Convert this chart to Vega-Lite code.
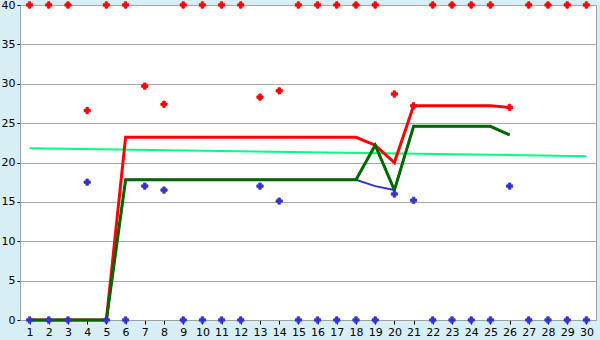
{
  "$schema": "https://vega.github.io/schema/vega-lite/v6.json",
  "width": 576,
  "height": 315,
  "autosize": {"type": "none"},
  "padding": {"left": 20, "top": 5, "right": 4, "bottom": 20},
  "background": "#d8eef5",
  "config": {
    "view": {"fill": "white", "stroke": "#a0a0a0", "strokeWidth": 1},
    "axis": {"labelFont": "DejaVu Sans", "labelFontSize": 11, "labelColor": "black", "domainColor": "#a0a0a0", "tickColor": "black", "title": null}
  },
  "datasets": {
    "pts": [
      {"x":1,"s":"r","v":40},{"x":2,"s":"r","v":40},{"x":3,"s":"r","v":40},{"x":4,"s":"r","v":26.6},{"x":5,"s":"r","v":40},{"x":6,"s":"r","v":40},{"x":7,"s":"r","v":29.7},{"x":8,"s":"r","v":27.4},{"x":9,"s":"r","v":40},{"x":10,"s":"r","v":40},{"x":11,"s":"r","v":40},{"x":12,"s":"r","v":40},{"x":13,"s":"r","v":28.3},{"x":14,"s":"r","v":29.1},{"x":15,"s":"r","v":40},{"x":16,"s":"r","v":40},{"x":17,"s":"r","v":40},{"x":18,"s":"r","v":40},{"x":19,"s":"r","v":40},{"x":20,"s":"r","v":28.7},{"x":21,"s":"r","v":27.2},{"x":22,"s":"r","v":40},{"x":23,"s":"r","v":40},{"x":24,"s":"r","v":40},{"x":25,"s":"r","v":40},{"x":26,"s":"r","v":27.0},{"x":27,"s":"r","v":40},{"x":28,"s":"r","v":40},{"x":29,"s":"r","v":40},{"x":30,"s":"r","v":40},
      {"x":1,"s":"b","v":0},{"x":2,"s":"b","v":0},{"x":3,"s":"b","v":0},{"x":4,"s":"b","v":17.5},{"x":5,"s":"b","v":0},{"x":6,"s":"b","v":0},{"x":7,"s":"b","v":17.0},{"x":8,"s":"b","v":16.5},{"x":9,"s":"b","v":0},{"x":10,"s":"b","v":0},{"x":11,"s":"b","v":0},{"x":12,"s":"b","v":0},{"x":13,"s":"b","v":17.0},{"x":14,"s":"b","v":15.1},{"x":15,"s":"b","v":0},{"x":16,"s":"b","v":0},{"x":17,"s":"b","v":0},{"x":18,"s":"b","v":0},{"x":19,"s":"b","v":0},{"x":20,"s":"b","v":16.0},{"x":21,"s":"b","v":15.2},{"x":22,"s":"b","v":0},{"x":23,"s":"b","v":0},{"x":24,"s":"b","v":0},{"x":25,"s":"b","v":0},{"x":26,"s":"b","v":17.0},{"x":27,"s":"b","v":0},{"x":28,"s":"b","v":0},{"x":29,"s":"b","v":0},{"x":30,"s":"b","v":0}
    ],
    "lines": [
      {"x":1,"s":"trend","v":21.8},{"x":30,"s":"trend","v":20.8},
      {"x":1,"s":"red","v":0},{"x":2,"s":"red","v":0},{"x":3,"s":"red","v":0},{"x":4,"s":"red","v":0},{"x":5,"s":"red","v":0},{"x":6,"s":"red","v":23.2},{"x":7,"s":"red","v":23.2},{"x":8,"s":"red","v":23.2},{"x":9,"s":"red","v":23.2},{"x":10,"s":"red","v":23.2},{"x":11,"s":"red","v":23.2},{"x":12,"s":"red","v":23.2},{"x":13,"s":"red","v":23.2},{"x":14,"s":"red","v":23.2},{"x":15,"s":"red","v":23.2},{"x":16,"s":"red","v":23.2},{"x":17,"s":"red","v":23.2},{"x":18,"s":"red","v":23.2},{"x":19,"s":"red","v":22.2},{"x":20,"s":"red","v":20.0},{"x":21,"s":"red","v":27.2},{"x":22,"s":"red","v":27.2},{"x":23,"s":"red","v":27.2},{"x":24,"s":"red","v":27.2},{"x":25,"s":"red","v":27.2},{"x":26,"s":"red","v":27.0},
      {"x":1,"s":"blue","v":0},{"x":2,"s":"blue","v":0},{"x":3,"s":"blue","v":0},{"x":4,"s":"blue","v":0},{"x":5,"s":"blue","v":0},{"x":6,"s":"blue","v":17.8},{"x":7,"s":"blue","v":17.8},{"x":8,"s":"blue","v":17.8},{"x":9,"s":"blue","v":17.8},{"x":10,"s":"blue","v":17.8},{"x":11,"s":"blue","v":17.8},{"x":12,"s":"blue","v":17.8},{"x":13,"s":"blue","v":17.8},{"x":14,"s":"blue","v":17.8},{"x":15,"s":"blue","v":17.8},{"x":16,"s":"blue","v":17.8},{"x":17,"s":"blue","v":17.8},{"x":18,"s":"blue","v":17.8},{"x":19,"s":"blue","v":17.0},{"x":20,"s":"blue","v":16.5},{"x":21,"s":"blue","v":24.6},{"x":22,"s":"blue","v":24.6},{"x":23,"s":"blue","v":24.6},{"x":24,"s":"blue","v":24.6},{"x":25,"s":"blue","v":24.6},{"x":26,"s":"blue","v":23.5},
      {"x":1,"s":"green","v":0},{"x":2,"s":"green","v":0},{"x":3,"s":"green","v":0},{"x":4,"s":"green","v":0},{"x":5,"s":"green","v":0},{"x":6,"s":"green","v":17.8},{"x":7,"s":"green","v":17.8},{"x":8,"s":"green","v":17.8},{"x":9,"s":"green","v":17.8},{"x":10,"s":"green","v":17.8},{"x":11,"s":"green","v":17.8},{"x":12,"s":"green","v":17.8},{"x":13,"s":"green","v":17.8},{"x":14,"s":"green","v":17.8},{"x":15,"s":"green","v":17.8},{"x":16,"s":"green","v":17.8},{"x":17,"s":"green","v":17.8},{"x":18,"s":"green","v":17.8},{"x":19,"s":"green","v":22.2},{"x":20,"s":"green","v":16.5},{"x":21,"s":"green","v":24.6},{"x":22,"s":"green","v":24.6},{"x":23,"s":"green","v":24.6},{"x":24,"s":"green","v":24.6},{"x":25,"s":"green","v":24.6},{"x":26,"s":"green","v":23.5}
    ]
  },
  "encoding": {
    "x": {"field": "x", "type": "quantitative", "scale": {"domain": [0.5, 30.5], "nice": false, "zero": false},
      "axis": {"values": [1,2,3,4,5,6,7,8,9,10,11,12,13,14,15,16,17,18,19,20,21,22,23,24,25,26,27,28,29,30], "grid": false, "tickSize": 4, "labelPadding": 2, "format": "d", "labelFlush": false}},
    "y": {"field": "v", "type": "quantitative", "scale": {"domain": [0, 40], "nice": false},
      "axis": {"values": [0,5,10,15,20,25,30,35,40], "grid": true, "gridColor": "#a8a8a8", "tickSize": 3, "labelPadding": 2, "labelFlush": false}}
  },
  "layer": [
    {"data": {"name": "lines"}, "transform": [{"filter": "datum.s === 'trend'"}], "mark": {"type": "line", "color": "#00ff80", "strokeWidth": 2}},
    {"data": {"name": "lines"}, "transform": [{"filter": "datum.s === 'red'"}], "mark": {"type": "line", "color": "#ff0000", "strokeWidth": 3}},
    {"data": {"name": "lines"}, "transform": [{"filter": "datum.s === 'blue'"}], "mark": {"type": "line", "color": "#3333cc", "strokeWidth": 2}},
    {"data": {"name": "lines"}, "transform": [{"filter": "datum.s === 'green'"}], "mark": {"type": "line", "color": "#006600", "strokeWidth": 3}},
    {"data": {"name": "pts"}, "transform": [{"filter": "datum.s === 'r'"}], "mark": {"type": "point", "shape": "cross", "filled": true, "size": 40, "color": "#ff0000", "opacity": 1, "stroke": "#ff0000", "strokeWidth": 0.8}},
    {"data": {"name": "pts"}, "transform": [{"filter": "datum.s === 'b'"}], "mark": {"type": "point", "shape": "cross", "filled": true, "size": 40, "color": "#3333cc", "opacity": 1, "stroke": "#3333cc", "strokeWidth": 0.8}}
  ]
}
